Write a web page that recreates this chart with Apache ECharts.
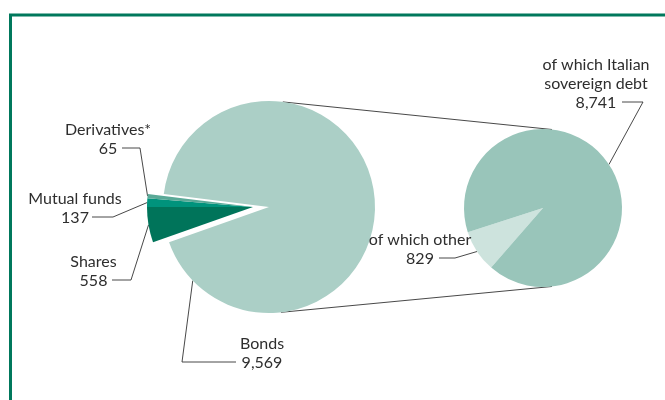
<!DOCTYPE html>
<html>
<head>
<meta charset="utf-8">
<script src="https://cdn.jsdelivr.net/npm/echarts@6/dist/echarts.min.js"></script>
<style>
  html, body { margin: 0; padding: 0; background: #fff; }
  #chart { width: 665px; height: 400px; }
</style>
</head>
<body>
<div id="chart"></div>
<script>
// Holdings by instrument (left pie) and the breakdown of bonds (right pie)
const holdingNames = ['Shares', 'Mutual funds', 'Derivatives*', 'Bonds'];
const holdingValues = [558, 137, 65, 9569];
const bondNames = ['of which other', 'of which Italian\nsovereign debt'];
const bondValues = [829, 8741];

const holdingColors = ['#00745a', '#00937c', '#5aa997', '#abcfc6'];
const bondColors = ['#cde3dd', '#99c5ba'];

// Pie geometry (px)
const LEFT = { cx: 269, cy: 207, r: 106, shift: 16 };
const RIGHT = { cx: 543, cy: 208, r: 79, start: 229 };

// Label placement: text centre, elbow of the leader line and its end next to the text
const labelSpots = {
  'Derivatives*': { x: 108, y: 139, elbow: [140, 148], end: [122, 148] },
  'Mutual funds': { x: 75, y: 208, elbow: [113, 217], end: [92, 217] },
  'Shares': { x: 93.5, y: 271, elbow: [131, 280], end: [112, 280] },
  'Bonds': { x: 262, y: 353, elbow: [182, 362], end: [236, 362], angle: 224 },
  'of which other': { x: 420, y: 249, elbow: [455, 258], end: [439, 258] },
  'of which Italian\nsovereign debt': { x: 596, y: 84, elbow: [643, 102], end: [622, 102] }
};

const FONT = 'Lato, "Noto Sans", sans-serif';
const TEXT = '#2e2e2e';

function sum(a) { return a.reduce((s, v) => s + v, 0); }
const holdTotal = sum(holdingValues);
const bondTotal = sum(bondValues);
// the small holdings sit just below the horizontal, pointing left
const leftStart = 180 + holdingValues[0] / holdTotal * 360;

function midAngle(values, total, start, i) {
  const before = sum(values.slice(0, i));
  return start - (before + values[i] / 2) / total * 360;
}
function onCircle(cx, cy, r, deg) {
  const a = deg * Math.PI / 180;
  return [cx + r * Math.cos(a), cy - r * Math.sin(a)];
}
function fmt(v) { return v.toLocaleString('en-US'); }

function leftLayout(cx) {
  return function (p) {
    const name = holdingNames[p.dataIndex];
    const s = labelSpots[name];
    if (!s) return {};
    const ang = s.angle != null ? s.angle : midAngle(holdingValues, holdTotal, leftStart, p.dataIndex);
    return {
      x: s.x, y: s.y, align: 'center', verticalAlign: 'middle',
      labelLinePoints: [onCircle(cx, LEFT.cy, LEFT.r, ang), s.elbow, s.end]
    };
  };
}

const labelBase = {
  show: true,
  position: 'outside',
  fontFamily: FONT,
  fontSize: 16,
  lineHeight: 19,
  color: TEXT,
  formatter: p => p.name + '\n' + fmt(p.value)
};
const lineBase = { show: true, lineStyle: { color: '#333', width: 0.9 } };

// Bonds drawn whole; the small holdings are left empty here and drawn pulled out below
const bondsSeries = {
  type: 'pie',
  silent: true,
  animation: false,
  clockwise: true,
  startAngle: leftStart,
  center: [LEFT.cx, LEFT.cy],
  radius: [0, LEFT.r],
  avoidLabelOverlap: false,
  emphasis: { disabled: true },
  data: holdingNames.map((n, i) => ({
    name: n,
    value: holdingValues[i],
    itemStyle: { color: n === 'Bonds' ? holdingColors[i] : 'rgba(0,0,0,0)' },
    label: n === 'Bonds' ? labelBase : { show: false },
    labelLine: n === 'Bonds' ? lineBase : { show: false }
  })),
  labelLayout: leftLayout(LEFT.cx)
};

const smallSeries = {
  type: 'pie',
  silent: true,
  animation: false,
  clockwise: true,
  startAngle: leftStart,
  center: [LEFT.cx - LEFT.shift, LEFT.cy],
  radius: [0, LEFT.r],
  avoidLabelOverlap: false,
  emphasis: { disabled: true },
  data: holdingNames.map((n, i) => ({
    name: n,
    value: holdingValues[i],
    itemStyle: { color: n === 'Bonds' ? 'rgba(0,0,0,0)' : holdingColors[i] },
    label: n === 'Bonds' ? { show: false } : labelBase,
    labelLine: n === 'Bonds' ? { show: false } : lineBase
  })),
  labelLayout: leftLayout(LEFT.cx - LEFT.shift)
};

const bondSeries = {
  type: 'pie',
  silent: true,
  animation: false,
  clockwise: true,
  startAngle: RIGHT.start,
  center: [RIGHT.cx, RIGHT.cy],
  radius: [0, RIGHT.r],
  avoidLabelOverlap: false,
  emphasis: { disabled: true },
  data: bondNames.map((n, i) => ({
    name: n, value: bondValues[i], itemStyle: { color: bondColors[i] }
  })),
  label: labelBase,
  labelLine: lineBase,
  labelLayout: function (p) {
    const s = labelSpots[bondNames[p.dataIndex]];
    const ang = midAngle(bondValues, bondTotal, RIGHT.start, p.dataIndex);
    return {
      x: s.x, y: s.y, align: 'center', verticalAlign: 'middle',
      labelLinePoints: [onCircle(RIGHT.cx, RIGHT.cy, RIGHT.r, ang), s.elbow, s.end]
    };
  }
};

// Lines tying the bonds pie to its breakdown, touching both circles near their tops and bottoms
const topA = onCircle(LEFT.cx, LEFT.cy, LEFT.r, 82.5);
const topB = onCircle(RIGHT.cx, RIGHT.cy, RIGHT.r, 83.5);
const botA = onCircle(LEFT.cx, LEFT.cy, LEFT.r, -83.5);
const botB = onCircle(RIGHT.cx, RIGHT.cy, RIGHT.r, -83.5);

const chart = echarts.init(document.getElementById('chart'), null, { renderer: 'canvas' });
chart.setOption({
  animation: false,
  backgroundColor: '#fff',
  graphic: [
    { type: 'rect', z: 0, silent: true,
      shape: { x: 10.5, y: 15, width: 900, height: 600 },
      style: { fill: 'none', stroke: '#00785c', lineWidth: 3 } },
    { type: 'line', z: 0, silent: true,
      shape: { x1: topA[0], y1: topA[1], x2: topB[0], y2: topB[1] },
      style: { stroke: '#333', lineWidth: 0.9 } },
    { type: 'line', z: 0, silent: true,
      shape: { x1: botA[0], y1: botA[1], x2: botB[0], y2: botB[1] },
      style: { stroke: '#333', lineWidth: 0.9 } }
  ],
  series: [bondsSeries, smallSeries, bondSeries]
});
</script>
</body>
</html>
